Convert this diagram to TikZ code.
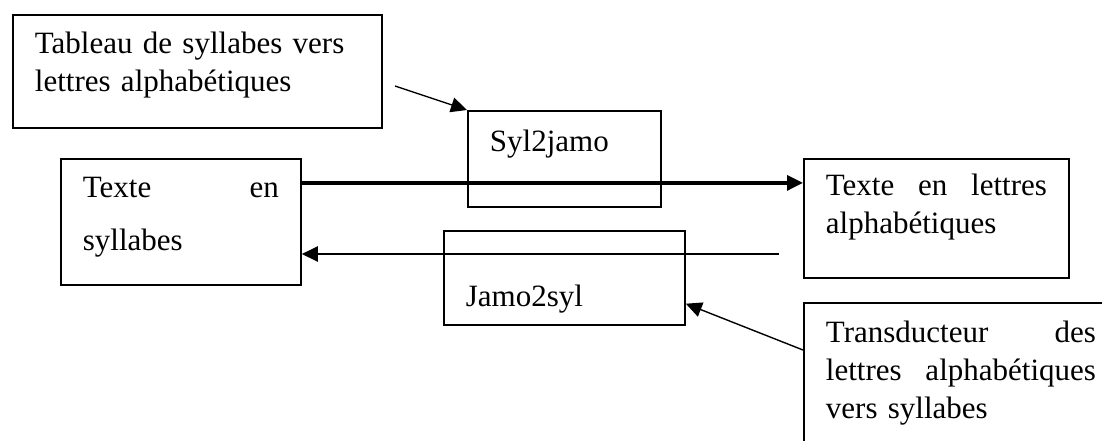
\documentclass[tikz,border=0pt]{standalone}
\usepackage{fontspec}
\setmainfont{Liberation Serif}
\usepackage{tikz}
\usetikzlibrary{arrows.meta}

\begin{document}
\begin{tikzpicture}[
  x=0.5pt, y=-0.5pt,
  box/.style={draw, line width=0.9pt, anchor=north west, inner xsep=11pt, inner ysep=0pt, align=left, font=\fontsize{15.5}{19}\selectfont},
  flow/.style={->, line width=1.4pt},
  hint/.style={->, line width=0.7pt},
  >={Triangle[length=8pt, width=7.5pt]}
]
\useasboundingbox (0,0) rectangle (1102,440);
\clip (0,0) rectangle (1102,440);

\node[box, text width=162.5pt, text height=19.5pt, text depth=37pt] (tab) at (12,14) {Tableau de syllabes vers\\lettres alphabétiques};
\node[box, text width=74.5pt, text height=20.5pt, text depth=27.5pt] (syl) at (467,110) {Syl2jamo};
\node[box, text width=98pt, text height=19.5pt, text depth=43.5pt, font=\fontsize{15.5}{26.5}\selectfont] (src) at (60,158) {Texte\hfill en\\syllabes};
\node[box, text width=110.5pt, text height=18.5pt, text depth=41pt] (dst) at (803,158) {Texte\hfill en\hfill lettres\\alphabétiques};
\node[box, text width=98.5pt, text height=38pt, text depth=9pt] (jam) at (443,230) {Jamo2syl};
\node[box, text width=135pt, text height=20pt, text depth=80pt] (tr) at (803,302) {Transducteur\hfill des\\lettres\hfill alphabétiques\\vers syllabes};

\coordinate (tabend) at (395,86);
\coordinate (back) at (779,254);

\draw[hint] (tabend) -- (syl.north west);
\draw[flow, line width=1.6pt] ([yshift=19.5pt]src.east) -- ([yshift=19.5pt]src.east -| dst.west);
\draw[flow, line width=1.2pt] (back) -- (back -| src.east);
\draw[hint] ([yshift=-24pt]tr.north west) -- (jam.-12.2);
\end{tikzpicture}
\end{document}
